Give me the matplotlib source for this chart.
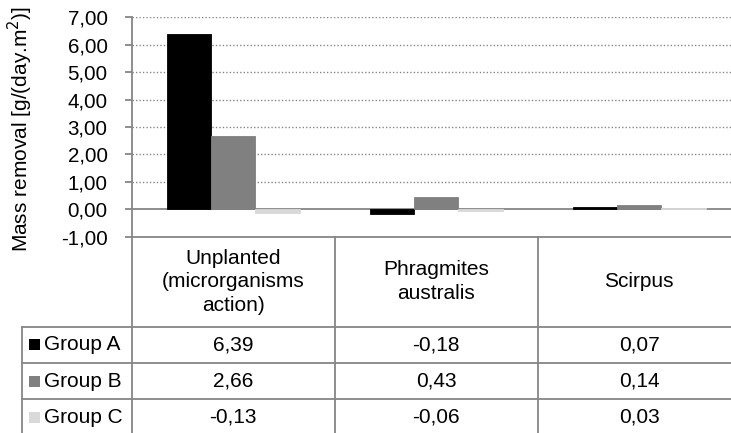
import matplotlib
matplotlib.use("Agg")
import matplotlib.pyplot as plt
from matplotlib.lines import Line2D
from matplotlib.patches import Rectangle
import numpy as np

plt.rcParams['font.family'] = ['Liberation Sans', 'DejaVu Sans']

categories = ["Unplanted\n(microrganisms\naction)", "Phragmites\naustralis", "Scirpus"]
series_names = ["Group A", "Group B", "Group C"]
group_a = [6.39, -0.18, 0.07]
group_b = [2.66, 0.43, 0.14]
group_c = [-0.13, -0.06, 0.03]
yticks = [-1, 0, 1, 2, 3, 4, 5, 6, 7]
colors = ["#000000", "#808080", "#d9d9d9"]
ylabel = "Mass removal [g/(day.m$^{2}$)]"

W, H = 731, 433
fig = plt.figure(figsize=(W / 100, H / 100), dpi=100)

def fx(x):
    return x / W

def fy(y):
    return 1 - y / H

# plot area in pixels
left, right = 131.7, 131.7 + 3 * 203.0
top, bottom = 17.3, 236.7
ax = fig.add_axes([fx(left), fy(bottom), fx(right - left), (bottom - top) / H])

lc = "#868686"
fs = 15
fs_tick = 14.8
series = [group_a, group_b, group_c]
x = np.arange(len(categories))
bw = 0.218
for i, (vals, c) in enumerate(zip(series, colors)):
    ax.bar(x + (i - 1) * bw, vals, width=bw, color=c,
           edgecolor=c if i else "#000000", linewidth=0.6, zorder=3)

ax.set_xlim(-0.5, 2.5)
ax.set_ylim(-1, 7)
ax.set_yticks(yticks)
ax.set_yticklabels([f"{v:.2f}".replace(".", ",") for v in yticks], fontsize=fs_tick)
ax.set_xticks([])
for v in yticks[2:]:
    ax.axhline(v, color=lc, linestyle=(0, (1, 1.5)), linewidth=1.0, zorder=1)
ax.axhline(0, color=lc, linewidth=1.3, zorder=2)
for s in ["top", "right"]:
    ax.spines[s].set_visible(False)
for s in ["left", "bottom"]:
    ax.spines[s].set_color(lc)
    ax.spines[s].set_linewidth(1.3)
ax.tick_params(axis="y", length=4.8, width=1.3, color=lc, pad=12.5)
ax.set_facecolor("none")

fig.text(fx(20), fy((top + bottom) / 2 + 2), ylabel, rotation=90, ha="center",
         va="center", fontsize=fs)

# data table drawn in pixel coordinates
col_edges = [left + k * 203.0 for k in range(4)]
hdr_bottom = 326.7
row_h = 36.3
leg_left = 21.7

def hline(x0, x1, y):
    fig.add_artist(Line2D([fx(x0), fx(x1)], [fy(y), fy(y)], color=lc, linewidth=1.3))

def vline(xx, y0, y1):
    fig.add_artist(Line2D([fx(xx), fx(xx)], [fy(y0), fy(y1)], color=lc, linewidth=1.3))

# vertical lines
for xe in col_edges:
    vline(xe, bottom, H + 5)
vline(leg_left, hdr_bottom, H + 5)
# horizontal lines
hline(leg_left, right, hdr_bottom)
for r in range(1, 3):
    hline(leg_left, right, hdr_bottom + r * row_h)

# header text
for k, cat in enumerate(categories):
    cx = (col_edges[k] + col_edges[k + 1]) / 2
    fig.text(fx(cx), fy((bottom + hdr_bottom) / 2), cat, ha="center", va="center",
             fontsize=fs, linespacing=1.3)

# rows
for r, (name, vals, c) in enumerate(zip(series_names, series, colors)):
    cy = hdr_bottom + (r + 0.5) * row_h
    fig.add_artist(Rectangle((fx(29.3), fy(cy + 5.5)), 10.7 / W, 11 / H,
                             transform=fig.transFigure, facecolor=c, edgecolor="none"))
    fig.text(fx(44), fy(cy), name, ha="left", va="center", fontsize=fs)
    for k, v in enumerate(vals):
        cx = (col_edges[k] + col_edges[k + 1]) / 2
        fig.text(fx(cx), fy(cy), f"{v:.2f}".replace(".", ","), ha="center",
                 va="center", fontsize=fs)

fig.savefig("out.png", dpi=100)
